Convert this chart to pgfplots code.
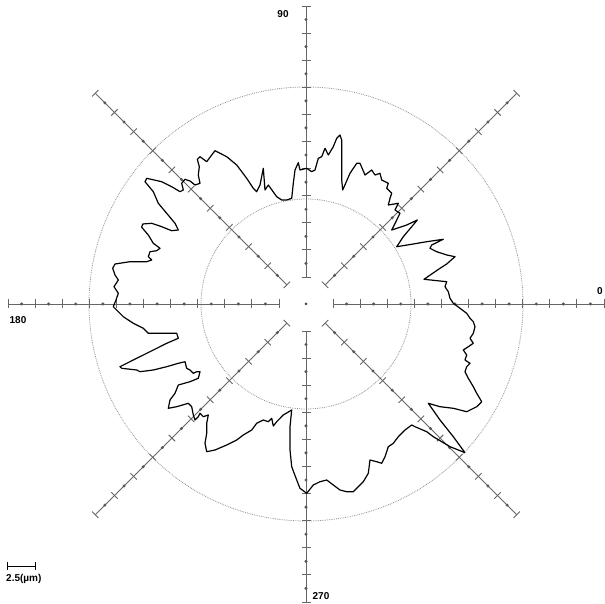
\documentclass[border=0pt]{standalone}
\usepackage{pgfplots}
\pgfplotsset{compat=1.18}
\usepackage{fontspec}
\setmainfont{Liberation Sans}
\begin{document}
\begin{tikzpicture}
\useasboundingbox (0,0) rectangle (605pt,604pt);
\fill[white] (0,0) rectangle (605pt,604pt);
\coordinate (C) at (306pt,300pt);
% reference circles
\draw[gray!85, densely dotted, line width=0.8pt] (C) circle[radius=217pt];
\draw[gray!85, densely dotted, line width=0.8pt] (C) circle[radius=105pt];
% spokes
\foreach \a in {0,45,...,315} {
  \draw[black!60, line width=0.8pt] ([shift={(\a:27pt)}]C) -- ([shift={(\a:298pt)}]C);
  \foreach \k in {0,2,...,20} {
    \pgfmathsetmacro{\r}{27+13.55*\k}
    \draw[black!60, line width=0.9pt] ([shift={(\a:\r pt)}]C) ++(\a+90:4.5pt) -- ++(\a-90:9pt);
  }
  \foreach \k in {1,3,...,19} {
    \pgfmathsetmacro{\r}{27+13.55*\k}
    \fill[black!65] ([shift={(\a:\r pt)}]C) circle[radius=1.7pt];
  }
}
\fill[black!70] (C) circle[radius=1.5pt];
% labels
\node[font=\fontsize{10}{11}\selectfont\bfseries, inner sep=0pt] at (283pt,590pt) {90};
\node[font=\fontsize{10}{11}\selectfont\bfseries, inner sep=0pt] at (18pt,284pt) {180};
\node[font=\fontsize{10}{11}\selectfont\bfseries, inner sep=0pt] at (600pt,313pt) {0};
\node[font=\fontsize{10}{11}\selectfont\bfseries, inner sep=0pt] at (321pt,8pt) {270};
% scale bar
\draw[black, line width=0.8pt] (7pt,38pt) -- (35pt,38pt);
\draw[black, line width=0.8pt] (7pt,34pt) -- (7pt,42pt);
\draw[black, line width=0.8pt] (35pt,34pt) -- (35pt,42pt);
\node[font=\fontsize{10}{11}\selectfont\bfseries, inner sep=0pt, anchor=west] at (6pt,25pt) {2.5(µm)};
\begin{axis}[
  at={(0,0)}, anchor=south west,
  x=1pt, y=1pt,
  xmin=0, xmax=605, ymin=0, ymax=604,
  y dir=reverse,
  hide axis, clip=false,
]
\addplot[black, line width=1.2pt, line join=round] coordinates {
(460,308.3) (453.3,303.3) (450,298.3) (448.3,291.7) (445,286.7) (446.7,281.7) (424,279.3) (431.7,274) (440,268.3) (446.7,264) (455,256.7) (446.7,255) (436.7,251.7) (430,248.3) (431.7,245) (443.3,239.3) (426.7,241.7) (413.3,244) (396.7,246.7) (403.3,236.7) (411.7,226.7) (417.3,220) (406.7,225) (391.7,230) (396.7,220) (400,213.3) (395,210) (398.3,203.3) (388.3,205) (390,198.3) (391.7,193.3) (386.7,188.3) (388.3,183.3) (381.7,180) (380,173.3) (375,175) (371.7,170) (365,175) (360,163.3) (356.7,163.3) (350,173.3) (342.7,190) (341.7,180) (341.7,140) (340,135) (336.7,138.3) (333.3,146.7) (328.3,155) (325,148.3) (321.7,156.7) (318.3,158.3) (315,170) (311.7,171.7) (306.7,168.3) (300,170) (298.3,162.7) (295,170) (293.3,183.3) (291.7,198.3) (286.7,200) (281.7,200) (276.7,196.7) (268.3,185) (265,190) (263.3,168.3) (260,185) (256.7,191.7) (253.3,188.3) (246.7,178.3) (236.7,165) (226.7,156.7) (215,150.7) (211.7,155) (206.7,161.7) (200,156.7) (197.3,159.3) (199.3,166.7) (198.3,175) (200,183.3) (195,185) (190,181) (185,179.3) (181.7,183.3) (183.3,190) (180,191.7) (171.7,186.7) (161.7,181.7) (146.7,178.3) (145,181.7) (153.3,191.7) (158.3,203.3) (166.7,213.3) (175,223.3) (178.3,230) (171.7,230.7) (161.7,226.7) (151.7,223.3) (142.7,224) (141.7,227.3) (148.3,235) (153.3,243.3) (160,248.3) (156.7,250.7) (150,251.7) (148.3,256.7) (151.7,260) (146.7,261.7) (130,261.7) (115,264) (112.7,268.3) (115,275) (118.3,280) (114,286.7) (118.3,293.3) (116,300) (113.3,306.7) (118.3,311.7) (123.3,316.7) (133.3,323.3) (143.3,328.3) (148.3,333.3) (165,333.3) (176.7,333.3) (178.3,338.3) (166.7,343.3) (150,351.7) (136.7,358.3) (120,366.7) (121.7,368.3) (136.7,370) (140,371.7) (153.3,370) (166.7,366.7) (178.3,363.3) (185,361.7) (186.7,368.3) (190,370) (193.3,373.3) (196.7,371.7) (200,371.7) (198.3,378.3) (190,381.7) (178.3,385) (175,393.3) (170,400) (168.3,408.3) (176.7,406.7) (188.3,403.3) (191.7,406.7) (193.3,415) (195,420) (198.3,416.7) (200,413.3) (203.3,416.7) (208.3,415) (206.7,423.3) (206.7,433.3) (205,443.3) (206.7,451.7) (215,450) (226.7,445) (236.7,440) (243.3,435) (251.7,430) (256.7,423.3) (263.3,420) (268.3,421.7) (271.7,418.3) (273.3,426) (276.7,421.7) (283.3,415) (291.7,410) (290,426.7) (290,450) (291.7,466.7) (296.7,480) (300,488.3) (306.7,493.3) (313.3,485) (320,481.7) (326.7,480) (333.3,485) (340,490) (346.7,491.7) (353.3,491.7) (358.3,486.7) (363.3,481.7) (368.3,473.3) (370,460) (376.7,461.7) (381.7,463.3) (385,456.7) (388.3,446.7) (393.3,443.3) (398.3,436.7) (401.7,433.3) (405,430) (411.7,425) (415,426.7) (426.7,431.7) (433.3,436.7) (441.7,441.7) (450,446.7) (458.3,450) (465,452.7) (453.3,436.7) (440,420) (428.3,403.3) (440,406.7) (453.3,408.3) (466.7,411.7) (476.7,406.7) (481.7,401.7) (476.7,393.3) (473.3,386.7) (468.3,378.3) (465,371.7) (466.7,366.7) (470,363.3) (465,360) (466.7,355) (463.3,350) (468.3,346.7) (473.3,343.3) (470,338.3) (473.3,333.3) (475,326.7) (473.3,321.7) (470,318.3) (466.7,313.3) (460,308.3)
};
\end{axis}
\end{tikzpicture}
\end{document}
